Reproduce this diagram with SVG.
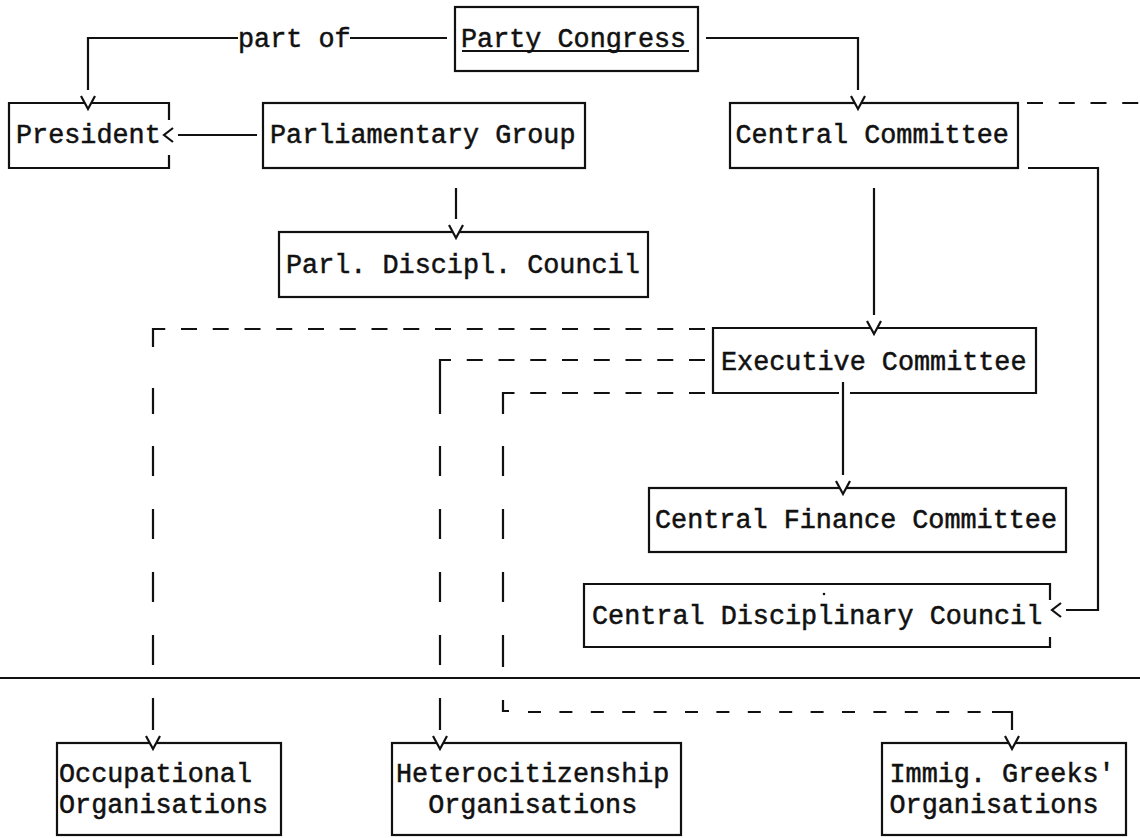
<svg xmlns="http://www.w3.org/2000/svg" width="1140" height="838" viewBox="0 0 1140 838">
  <defs>
    <style>
      .box{fill:none;stroke:#111;stroke-width:2.2;stroke-linejoin:miter}
      .ln{fill:none;stroke:#111;stroke-width:2.2}
      .dsh{fill:none;stroke:#111;stroke-width:2.2;stroke-dasharray:16 15.75}
      .dsh2{fill:none;stroke:#111;stroke-width:2.2;stroke-dasharray:13 18.4}
      text{font-family:"Liberation Mono","DejaVu Sans Mono",monospace;font-size:26.8px;fill:#111;stroke:#111;stroke-width:0.5}
    </style>
    <!-- typewriter-style "v" arrowhead, drawn a little past the line end;
         the white wedge clears the box border inside the v -->
    <marker id="vee" markerUnits="userSpaceOnUse" orient="auto" refX="0" refY="0" markerWidth="30" markerHeight="30" viewBox="-5 -15 30 30" overflow="visible">
      <path d="M6,-7 L19,0 L6,7 Z" fill="#fff" stroke="none"/>
      <path d="M6,-7 L19,0 L6,7" fill="none" stroke="#111" stroke-width="2.2"/>
    </marker>
    <!-- typewriter-style "<" arrowhead -->
    <marker id="lt" markerUnits="userSpaceOnUse" orient="auto" refX="0" refY="0" markerWidth="30" markerHeight="30" viewBox="-5 -15 30 30" overflow="visible">
      <path d="M5,-7 L14,0 L5,7" fill="none" stroke="#111" stroke-width="2.2"/>
    </marker>
  </defs>

  <rect x="0" y="0" width="1140" height="838" fill="#fff"/>

  <!-- nodes -->
  <g id="party-congress">
    <rect class="box" x="455" y="7" width="243" height="64"/>
    <text x="461" y="47">Party Congress</text>
    <line class="ln" x1="462" y1="51" x2="689" y2="51"/>
  </g>

  <g id="president">
    <path class="box" d="M169,120 V103 H9 V168 H169 V155"/>
    <text x="16" y="143">President</text>
  </g>

  <g id="parliamentary-group">
    <rect class="box" x="263" y="103" width="322" height="65"/>
    <text x="270" y="143">Parliamentary Group</text>
  </g>

  <g id="central-committee">
    <rect class="box" x="730" y="103" width="288" height="65"/>
    <text x="735.5" y="143">Central Committee</text>
  </g>

  <g id="parl-discipl-council">
    <rect class="box" x="279" y="232" width="369" height="65"/>
    <text x="286" y="273">Parl. Discipl. Council</text>
  </g>

  <g id="executive-committee">
    <path class="box" d="M839,393 H713 V328 H1036 V393 H850"/>
    <text x="721" y="369.5">Executive Committee</text>
  </g>

  <g id="central-finance-committee">
    <rect class="box" x="649" y="488" width="417" height="64"/>
    <text x="655" y="528">Central Finance Committee</text>
  </g>

  <g id="central-disciplinary-council">
    <path class="box" d="M1050,600 V584 H584 V647 H1050 V637"/>
    <text x="592" y="624">Central Disciplinary Council</text>
    <circle cx="824" cy="594" r="1.3" fill="#111"/>
  </g>

  <g id="occupational-organisations">
    <rect class="box" x="57" y="743" width="224" height="92"/>
    <text x="59" y="782">Occupational</text>
    <text x="59" y="813">Organisations</text>
  </g>

  <g id="heterocitizenship-organisations">
    <rect class="box" x="392" y="743" width="289" height="92"/>
    <text x="396" y="782">Heterocitizenship</text>
    <text x="428.2" y="813">Organisations</text>
  </g>

  <g id="immig-greeks-organisations">
    <rect class="box" x="882" y="743" width="244" height="92"/>
    <text x="889.5" y="782">Immig. Greeks'</text>
    <text x="889.5" y="813">Organisations</text>
  </g>

  <!-- level divider -->
  <g id="divider">
    <line class="ln" x1="0" y1="678" x2="1140" y2="678"/>
  </g>

  <!-- connectors -->
  <g id="connectors">
    <!-- Party Congress -> President ("part of") -->
    <g id="c-congress-president">
      <path class="ln" d="M447,38 H350"/>
      <text x="238" y="47">part of</text>
      <path class="ln" d="M238,38 H88 V90" marker-end="url(#vee)"/>
    </g>
    <!-- Party Congress -> Central Committee -->
    <path id="c-congress-central" class="ln" d="M706,38 H858 V90" marker-end="url(#vee)"/>
    <!-- Parliamentary Group -> President -->
    <path id="c-parl-president" class="ln" d="M257,135 H178" marker-end="url(#lt)"/>
    <!-- Parliamentary Group -> Parl. Discipl. Council -->
    <path id="c-parl-discipl" class="ln" d="M456,188 V219" marker-end="url(#vee)"/>
    <!-- Central Committee -> off-page (dashed) -->
    <path id="c-central-offpage" class="dsh" d="M1027,103 H1140"/>
    <!-- Central Committee -> Executive Committee -->
    <path id="c-central-exec" class="ln" d="M874,188 V315" marker-end="url(#vee)"/>
    <!-- Central Committee -> Central Disciplinary Council -->
    <path id="c-central-cdc" class="ln" d="M1028,168 H1098 V610 H1066" marker-end="url(#lt)"/>
    <!-- Executive Committee -> Central Finance Committee -->
    <path id="c-exec-finance" class="ln" d="M843,382 V475" marker-end="url(#vee)"/>

    <!-- Executive Committee -> Occupational Organisations (dashed) -->
    <g id="c-exec-occupational">
      <path class="dsh" d="M705,329 H160"/>
      <path class="ln" d="M160,329 H153 V347 M153,388 V414 M153,446 V476 M153,509 V539 M153,572 V602 M153,635 V665 M153,698 V730" marker-end="url(#vee)"/>
    </g>
    <!-- Executive Committee -> Heterocitizenship Organisations (dashed) -->
    <g id="c-exec-hetero">
      <path class="dsh" d="M705,360 H447"/>
      <path class="ln" d="M447,360 H440 V414 M440,446 V476 M440,509 V539 M440,572 V602 M440,635 V665 M440,698 V730" marker-end="url(#vee)"/>
    </g>
    <!-- Executive Committee -> Immig. Greeks' Organisations (dashed) -->
    <g id="c-exec-immig">
      <path class="dsh" d="M705,393 H510"/>
      <path class="ln" d="M510,393 H503 V414 M503,446 V476 M503,509 V539 M503,572 V602 M503,635 V667 M503,700 V711 H509"/>
      <path class="dsh2" d="M528,712 H985"/>
      <path class="ln" d="M992,712 H1012 V730" marker-end="url(#vee)"/>
    </g>
  </g>
</svg>
